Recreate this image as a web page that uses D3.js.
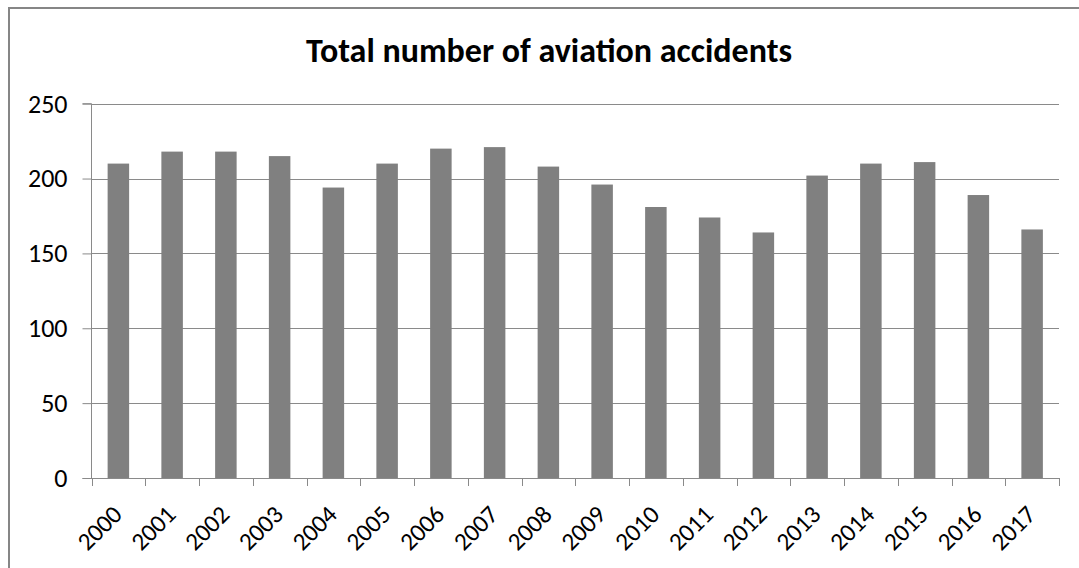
<!DOCTYPE html>
<html><head><meta charset="utf-8">
<script src="https://cdn.jsdelivr.net/npm/d3@7"></script>
<style>html,body{margin:0;padding:0;background:#fff;overflow:hidden}</style>
</head><body>
<svg id="chart" width="1079" height="568"></svg>
<script>
const years = ["2000","2001","2002","2003","2004","2005","2006","2007","2008","2009","2010","2011","2012","2013","2014","2015","2016","2017"];
const accidents = [210,218,218,215,194,210,220,221,208,196,181,174,164,202,210,211,189,166];
const yTicks = [0,50,100,150,200,250];
const title = "Total number of aviation accidents";

const svg = d3.select("#chart");
const margin = {left: 91.5, right: 1059, top: 103.7, bottom: 478};
const font = "Carlito, Calibri, Lato, sans-serif";

// chart frame
svg.append("rect").attr("x", 9).attr("y", 8).attr("width", 1100).attr("height", 600)
  .attr("fill", "#fff").attr("stroke", "#868686").attr("stroke-width", 2);

const x = d3.scaleBand().domain(years).range([margin.left, margin.right])
  .paddingInner(0.6).paddingOuter(0.3);
const y = d3.scaleLinear().domain([0, 250]).range([margin.bottom, margin.top]);

// gridlines
svg.append("g").selectAll("line").data(yTicks.filter(d => d > 0)).join("line")
  .attr("x1", margin.left).attr("x2", margin.right)
  .attr("y1", d => Math.round(y(d)) + 0.5).attr("y2", d => Math.round(y(d)) + 0.5)
  .attr("stroke", "#8a8a8a").attr("stroke-width", 1);

// bars
svg.append("g").selectAll("rect").data(years).join("rect")
  .attr("x", (d) => x(d))
  .attr("width", x.bandwidth())
  .attr("y", (d, i) => y(accidents[i]))
  .attr("height", (d, i) => y(0) - y(accidents[i]))
  .attr("fill", "#808080");

// y axis
const yAxis = d3.axisLeft(y).tickValues(yTicks).tickSize(9).tickPadding(15);
const gy = svg.append("g").attr("transform", `translate(${margin.left},0)`).call(yAxis);
gy.select(".domain").attr("stroke", "#8a8a8a").attr("d", `M-9,${margin.top}H0V${margin.bottom}`);
gy.selectAll(".tick line").attr("stroke", "#8a8a8a");
gy.selectAll(".tick text").attr("font-family", font).attr("font-size", 26).attr("fill", "#000")
  .attr("dy", "0.32em");

// x axis
const edges = years.map(d => x(d) - x.step() * x.paddingInner() / 2).concat([margin.right]);
const gx = svg.append("g");
gx.append("line").attr("x1", margin.left - 9).attr("x2", margin.right)
  .attr("y1", margin.bottom + 0.5).attr("y2", margin.bottom + 0.5)
  .attr("stroke", "#8a8a8a");
gx.selectAll("line.tk").data(edges).join("line").attr("class", "tk")
  .attr("x1", d => Math.round(d) + 0.5).attr("x2", d => Math.round(d) + 0.5)
  .attr("y1", margin.bottom).attr("y2", margin.bottom + 8)
  .attr("stroke", "#8a8a8a");
gx.selectAll("text").data(years).join("text")
  .attr("transform", d => `translate(${x(d) + x.bandwidth() / 2 + 5},${margin.bottom + 38}) rotate(-45)`)
  .attr("text-anchor", "end")
  .attr("font-family", font).attr("font-size", 25).attr("fill", "#000")
  .text(d => d);

// title
svg.append("text").attr("x", 549).attr("y", 62).attr("text-anchor", "middle")
  .attr("font-family", font).attr("font-weight", "bold").attr("font-size", 34)
  .attr("fill", "#000").text(title);
</script>
</body></html>
